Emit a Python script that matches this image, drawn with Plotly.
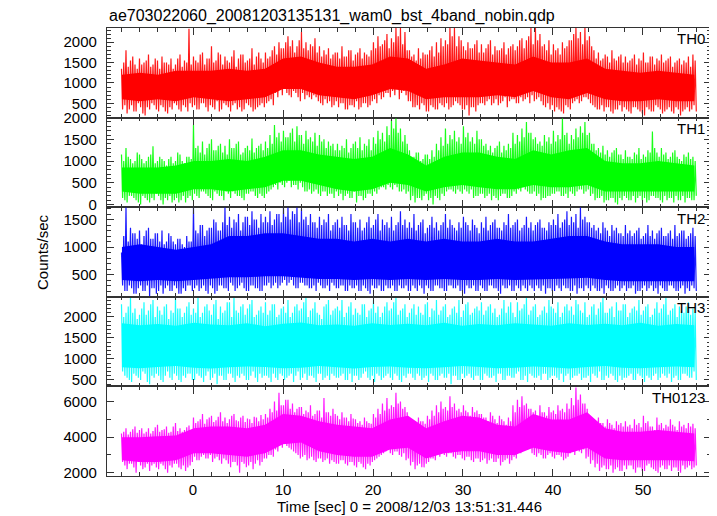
import numpy as np
import plotly.graph_objects as go
from plotly.subplots import make_subplots

# ---------------- data ----------------
# Spiky envelope of each light curve in 0.5 s bins.
# Per bin: *_hi at bin start, *_lo +0.125 s, *_hi_b +0.25 s, *_lo_b +0.375 s.
TIME_START = -7.95
BIN_SEC = 0.5

th0_hi = [1350,1800,1550,1450,1600,1500,1700,1450,1550,1650,1500,1600,1450,1700,1550,2330,
          1650,1500,1750,1600,1900,1550,1700,1650,1500,1800,1600,1700,1550,1850,1650,1600,
          1750,1650,1900,2000,1850,2150,2050,1900,2250,2000,1950,2100,1900,1800,1850,1700,
          1750,1900,1650,1800,1700,1850,1750,1650,2000,2150,1950,2200,2100,2350,2350,2250,
          1800,1700,1850,1750,1700,1900,2000,2100,2050,2350,2350,2150,1900,2000,1850,2050,
          1950,1850,2050,1900,1800,2000,1850,1950,1900,2100,2050,2350,2350,2200,1950,2050,
          1950,1850,2000,1900,2050,2350,2250,2350,2150,1800,1750,1600,1650,1800,1550,1700,
          1650,1550,1700,1600,1750,1500,1650,1600,1700,1550,1650,1500,1600,1550,1650,1700]
th0_lo = [350,250,450,300,400,200,350,450,300,400,250,350,450,300,400,500,
          450,350,500,300,400,550,350,450,300,500,400,350,450,300,400,500,
          500,600,750,900,850,700,800,650,750,700,600,650,500,600,550,450,
          400,500,350,450,550,400,500,450,600,700,650,750,800,850,750,700,
          550,400,350,450,300,400,350,450,500,400,550,450,350,200,400,450,
          500,550,450,600,500,650,550,600,500,550,650,700,600,550,400,350,
          300,350,250,400,500,600,550,650,500,400,350,300,400,250,350,300,
          350,250,400,300,200,350,300,400,250,350,300,400,200,350,300,450]
th0_hi_b = [1500,1400,1650,1350,1450,1550,1400,1600,1350,1500,1450,1350,1600,1400,1500,1450,
            1550,1700,1450,1600,1500,1750,1450,1550,1650,1400,1700,1500,1600,1450,1750,1500,
            1600,1800,1700,1850,2000,1900,1750,2050,1850,1800,1900,1750,1650,1700,1600,1750,
            1600,1650,1800,1550,1750,1600,1700,1800,1850,1900,2050,1850,2000,2150,1950,1800,
            1650,1550,1600,1700,1800,1650,1750,1900,1950,2150,1900,2050,1800,1850,1950,1750,
            1750,1950,1700,1800,1850,1700,1900,1800,2050,1850,2150,1950,2050,1900,1800,1700,
            1800,1700,1850,2050,2200,2100,1950,2050,1900,1600,1550,1700,1500,1600,1650,1500,
            1500,1600,1450,1550,1500,1650,1450,1550,1500,1600,1400,1550,1450,1500,1400,1550]
th0_lo_b = [450,350,300,500,250,400,500,350,450,300,400,500,350,450,300,400,
            350,500,400,450,350,300,500,400,450,350,300,500,400,350,450,400,
            550,450,650,700,750,650,750,550,600,650,700,550,450,500,400,550,
            500,350,450,400,350,500,400,550,500,600,750,650,700,600,800,550,
            400,450,500,300,450,350,500,400,350,450,500,350,450,400,300,500,
            450,600,500,450,550,400,600,500,650,600,500,550,650,450,500,450,
            400,300,450,350,550,500,650,600,450,350,450,400,300,350,450,400,
            300,400,350,250,400,300,450,350,300,400,250,350,300,400,350,300]

th1_hi = [1150,1300,1050,1000,1150,950,1100,1340,1000,1050,900,1100,1000,1150,950,1100,
          1830,1350,1450,1300,1500,1250,1400,1350,1500,1300,1450,1200,1350,1520,1300,1400,
          1450,1600,1830,1650,1700,1550,1750,1800,1600,1700,1550,1650,1600,1500,1450,1400,
          1400,1350,1500,1300,1450,1550,1400,1500,1550,1700,1650,1800,1950,1980,1750,1600,
          1250,1100,1200,1050,1150,1250,1400,1550,1750,1600,1700,1550,1800,1650,1550,1700,
          1500,1400,1350,1300,1450,1350,1400,1650,1600,1750,1900,1650,1550,1450,1600,1550,
          1700,1600,1980,1650,1600,1750,1800,1900,1650,1400,1300,1350,1250,1200,1300,1150,
          1250,1100,1200,1300,1150,1250,1680,1200,1300,1200,1100,1250,1050,1150,1200,1100]
th1_lo = [150,50,200,100,0,150,50,100,200,0,100,50,150,100,50,200,
          250,150,300,200,100,250,200,300,150,250,200,100,250,300,150,200,
          250,350,450,500,400,550,450,350,400,300,250,350,200,300,250,150,
          200,100,250,150,50,200,150,250,300,350,400,450,350,400,300,250,
          100,50,150,200,100,0,150,250,300,350,250,300,350,250,150,200,
          250,200,100,150,200,250,150,300,350,400,300,250,200,100,150,200,
          250,300,200,150,250,300,350,300,200,100,150,50,100,150,0,100,
          150,100,50,200,150,100,200,150,50,100,150,200,100,50,150,100]
th1_hi_b = [1000,1100,950,1200,1050,1000,1150,950,1100,1000,1050,950,1200,1000,1100,1050,
            1300,1200,1150,1400,1250,1350,1200,1150,1300,1400,1150,1300,1250,1200,1350,1250,
            1300,1400,1550,1450,1550,1650,1450,1600,1400,1500,1450,1350,1450,1300,1350,1250,
            1250,1300,1200,1400,1300,1250,1350,1250,1400,1500,1450,1600,1750,1650,1450,1400,
            1100,1200,1000,1150,1050,1100,1250,1350,1400,1500,1450,1400,1550,1450,1400,1500,
            1350,1250,1200,1350,1200,1250,1300,1400,1450,1550,1650,1500,1400,1350,1450,1400,
            1450,1500,1600,1400,1500,1550,1650,1600,1400,1250,1200,1150,1100,1250,1150,1050,
            1100,1050,1150,1050,1100,1200,1300,1100,1150,1050,1200,1100,1000,1100,1050,1000]
th1_lo_b = [100,200,150,50,200,100,150,250,100,150,200,100,50,200,150,100,
            200,300,250,150,300,200,100,250,300,200,150,250,300,200,250,150,
            300,400,350,450,500,400,450,500,300,350,300,250,300,200,250,300,
            250,200,150,300,200,100,250,200,250,400,350,400,450,300,350,300,
            200,150,100,250,150,200,100,200,350,300,350,250,300,350,200,250,
            150,250,200,100,250,150,200,250,300,350,250,300,250,150,200,250,
            300,200,250,300,200,350,250,350,250,150,200,100,150,50,150,200,
            100,200,150,100,50,200,150,100,200,150,50,100,200,150,100,200]

th2_hi = [900,1720,1350,1250,1300,1200,1350,1150,1250,1300,1100,1200,1050,1150,1000,1100,
          1720,1250,1400,1300,1350,1450,1300,1720,1550,1500,1600,1450,1550,1650,1500,1600,
          1550,1650,1500,1600,1720,1720,1650,1720,1700,1550,1600,1450,1550,1500,1600,1400,
          1500,1550,1400,1600,1450,1500,1350,1550,1400,1600,1500,1450,1550,1400,1650,1500,
          1450,1600,1400,1500,1350,1550,1450,1400,1600,1500,1350,1450,1550,1400,1500,1350,
          1450,1550,1400,1500,1350,1450,1600,1400,1500,1350,1550,1450,1400,1500,1350,1450,
          1500,1600,1450,1650,1550,1600,1720,1550,1450,1400,1350,1450,1300,1400,1350,1250,
          1400,1300,1250,1350,1200,1400,1300,1250,1350,1200,1300,1400,1250,1300,1200,1350]
th2_lo = [300,200,250,150,300,200,100,250,200,150,300,200,250,150,200,300,
          250,200,300,150,250,200,300,250,350,200,300,250,200,300,250,200,
          300,250,350,300,400,350,300,250,350,300,250,200,300,250,200,300,
          250,300,200,250,300,200,250,150,250,300,200,250,300,200,250,300,
          200,250,300,150,250,200,300,250,200,300,250,200,150,250,300,200,
          250,200,300,250,150,250,300,200,250,300,200,250,300,200,150,250,
          200,250,300,250,200,150,250,300,200,250,200,150,250,200,300,250,
          200,250,150,200,300,250,200,150,250,200,300,200,250,150,200,250]
th2_hi_b = [1200,1100,1250,1150,1050,1300,1150,1250,1100,1050,1250,1100,1150,1050,1200,1100,
            1300,1400,1200,1350,1500,1300,1450,1400,1350,1450,1300,1550,1400,1500,1350,1450,
            1450,1400,1600,1450,1550,1500,1600,1450,1500,1400,1450,1350,1400,1450,1300,1450,
            1350,1400,1300,1450,1350,1300,1450,1350,1500,1300,1400,1350,1300,1450,1400,1350,
            1350,1300,1450,1250,1400,1350,1300,1450,1350,1400,1300,1350,1450,1300,1400,1250,
            1350,1300,1450,1350,1300,1400,1350,1450,1300,1400,1350,1300,1450,1350,1300,1400,
            1400,1350,1500,1400,1450,1350,1500,1450,1350,1300,1250,1350,1200,1300,1250,1200,
            1250,1200,1300,1150,1250,1200,1150,1300,1200,1250,1150,1200,1300,1150,1250,1200]
th2_lo_b = [200,300,150,250,200,300,250,150,300,250,200,300,150,250,300,200,
            300,250,200,300,150,300,250,200,300,250,350,200,300,250,200,300,
            350,300,250,350,300,400,250,350,300,250,300,350,250,300,350,250,
            300,200,300,250,200,300,200,300,250,200,300,250,200,300,250,200,
            300,200,250,300,200,300,250,200,300,250,300,200,300,250,200,300,
            200,300,250,200,300,250,200,300,200,250,300,200,250,300,250,200,
            300,200,250,200,300,250,200,250,300,200,250,300,200,250,200,300,
            250,300,200,250,200,300,250,300,200,300,250,200,300,250,300,200]

th3_hi = [2300,2100,2450,2200,2050,2350,2150,2400,2250,2050,2300,2150,2450,2200,2100,2350,
          2200,2450,2100,2300,2050,2400,2250,2150,2350,2450,2100,2300,2200,2400,2050,2250,
          2350,2150,2300,2050,2250,2400,2100,2300,2200,2450,2150,2350,2050,2250,2400,2150,
          2250,2400,2100,2350,2200,2050,2300,2150,2400,2250,2100,2350,2200,2450,2150,2300,
          2100,2300,2250,2050,2350,2200,2400,2150,2300,2050,2250,2400,2150,2350,2100,2250,
          2350,2150,2300,2200,2050,2400,2250,2100,2350,2200,2450,2150,2300,2050,2250,2400,
          2200,2350,2100,2300,2250,2400,2150,2350,2050,2300,2200,2450,2100,2250,2350,2150,
          2300,2100,2250,2400,2150,2300,2050,2350,2200,2450,2150,2300,2250,2100,2350,2200]
th3_lo = [700,550,450,600,500,650,400,550,600,450,700,500,600,450,550,650,
          500,600,450,700,550,400,600,500,650,450,550,600,500,700,450,550,
          600,450,550,650,500,600,450,700,550,500,600,450,650,550,500,600,
          550,650,500,450,600,550,700,500,450,600,550,650,500,600,450,550,
          650,500,600,550,450,600,500,650,550,400,600,500,550,650,500,600,
          500,600,550,450,650,500,600,550,700,500,450,600,550,500,650,550,
          600,500,450,650,550,600,500,550,450,600,700,500,550,600,450,500,
          550,650,500,600,450,550,600,500,650,550,450,600,500,650,550,700]
th3_hi_b = [2000,2250,2100,1950,2200,2050,2300,2000,2150,2250,1950,2100,2200,2000,2250,2050,
            2100,2000,2250,2150,2300,1950,2100,2350,2000,2150,2250,2050,2300,2000,2150,2100,
            2050,2300,2000,2200,2100,2000,2250,2150,2350,2000,2200,2100,1950,2300,2050,2200,
            2150,2000,2250,2050,2100,2300,2000,2200,2100,2000,2250,2150,2350,2050,2200,2000,
            2200,2050,2100,2300,2000,2150,2050,2250,2000,2200,2100,2000,2300,2050,2200,2150,
            2050,2250,2100,2000,2200,2100,2350,2000,2150,2300,2050,2250,2000,2150,2100,2250,
            2100,2000,2250,2150,2050,2300,2100,2000,2250,2050,2350,2100,2200,2000,2150,2300,
            2000,2200,2150,2050,2250,2000,2200,2100,2300,2050,2200,2000,2150,2250,2050,2100]
th3_lo_b = [600,500,650,550,700,450,600,650,500,600,550,650,500,600,650,500,
            650,550,600,500,650,600,500,650,550,600,650,500,600,550,650,600,
            550,650,500,600,550,650,600,500,650,600,550,650,500,600,650,550,
            600,500,650,600,500,650,550,600,650,500,600,550,650,500,600,650,
            550,650,500,600,650,500,600,550,650,600,500,650,600,550,600,500,
            650,550,600,650,500,600,550,650,500,600,650,550,600,650,500,600,
            550,650,600,500,600,650,550,600,650,550,500,600,650,500,600,550,
            600,500,650,550,600,500,650,550,600,650,550,500,650,600,550,500]

th0123_hi = [4200,4500,4300,4600,4400,4200,4500,4350,4700,4400,4600,4300,4800,4500,4400,4650,
             5100,4900,5300,5000,5200,4950,5400,5100,5000,5300,4900,5200,5050,4800,5100,5250,
             5300,5600,6000,6500,5800,6100,5900,5600,5700,5500,5800,5300,5500,6200,5400,5600,
             5200,5400,5100,5300,5000,4900,5100,4800,5300,5600,5900,6200,5800,6500,6000,5700,
             5000,4800,5100,4900,5200,5500,5800,6000,5700,6300,5900,5600,5800,5400,5700,5500,
             5300,5100,5400,5000,5200,4900,5100,5800,6100,6300,5900,5600,5500,5800,5400,5700,
             5500,5800,5600,5900,6200,6800,6400,5900,5200,4900,5100,4800,5000,4700,4900,4800,
             4900,4700,5000,4800,5200,4900,4600,5100,4800,4700,5000,4600,4900,4700,4800,4750]
th0123_lo = [2600,2200,2500,2000,2400,2300,2100,2500,2200,2400,2000,2300,2500,2200,2100,2400,
             2900,2700,3000,2800,2600,2900,2500,2700,2300,2600,2000,2500,2400,2200,2700,2600,
             2800,3000,3300,3600,3800,3400,3200,3000,2900,2700,2900,2600,2800,2700,2500,2600,
             2500,2700,2400,2600,2300,2500,2200,2400,2700,2900,3100,3300,3000,3200,2900,2700,
             2400,2200,2500,2300,2600,2800,3000,3200,2900,3100,2800,3000,2700,2900,2600,2800,
             2700,2500,2800,2600,2400,2700,2500,2900,3200,3600,3300,3100,2900,3000,2800,3100,
             2800,3000,2700,2900,3200,3400,3100,2800,2500,2300,2100,2400,2200,2000,2300,2100,
             2200,2400,2000,2300,2100,2500,2200,2000,2400,2200,2100,2300,2000,2200,2400,2300]
th0123_hi_b = [4300,4150,4450,4250,4500,4300,4200,4550,4300,4450,4250,4600,4350,4300,4550,4400,
               4800,5000,4750,5100,4850,5150,4900,4800,5200,4950,5100,4850,5000,5150,4900,5000,
               5100,5400,5500,5800,6100,5600,5400,5700,5300,5400,5200,5500,5100,5400,5200,5300,
               5000,5100,4900,5050,4800,4700,4900,4750,5100,5300,5500,5600,5700,5900,5600,5400,
               4800,4700,4900,4750,5000,5200,5400,5600,5500,5700,5500,5400,5500,5200,5400,5300,
               5100,4900,5200,4800,5000,4700,4900,5400,5700,5800,5600,5400,5200,5400,5200,5400,
               5300,5500,5400,5600,5800,6100,5900,5600,5000,4700,4800,4600,4800,4500,4700,4600,
               4600,4500,4700,4550,4800,4600,4400,4700,4500,4600,4700,4400,4600,4500,4600,4500]
th0123_lo_b = [2400,2500,2300,2600,2200,2500,2400,2300,2500,2200,2400,2500,2300,2400,2300,2600,
               2700,2900,2800,3000,2800,2700,2800,2500,2600,2400,2600,2300,2600,2500,2400,2800,
               3000,2900,3200,3400,3500,3300,3100,2800,3000,2800,2700,2800,2600,2800,2700,2500,
               2700,2500,2600,2400,2600,2300,2500,2600,2800,3000,3200,3100,3200,3000,3100,2800,
               2600,2400,2300,2500,2800,2700,2900,3000,3100,2900,3000,2800,2900,2700,2800,2600,
               2800,2700,2600,2800,2600,2800,2700,2800,3100,3300,3400,3000,3100,2800,3000,2900,
               3000,2900,2800,3100,3000,3200,3300,2900,2700,2500,2300,2200,2400,2200,2100,2400,
               2400,2200,2300,2100,2400,2300,2100,2300,2200,2400,2300,2100,2400,2300,2200,2400]

# Dense core (solid band) of each light curve, read about every 2 s
core_t = [-7.9, -5.9, -3.9, -1.9, 0.1, 2.0, 4.0, 6.0, 8.0, 10.0, 12.0, 14.0, 16.0, 17.9, 19.9,
          21.9, 23.9, 25.9, 27.9, 29.9, 31.8, 33.8, 35.8, 37.8, 39.8, 41.8, 43.8, 45.8, 47.7,
          49.7, 51.7, 53.7, 55.7]
th0_core_hi = [1200,1250,1200,1300,1300,1300,1350,1300,1350,1600,1650,1500,1400,1400,1450,1650,1600,
               1350,1450,1600,1550,1500,1450,1650,1500,1500,1600,1350,1300,1250,1300,1250,1200]
th0_core_lo = [600,550,600,550,650,600,550,600,650,850,850,700,650,600,700,850,800,
               600,650,650,650,700,650,800,650,600,750,600,550,550,600,550,550]
th1_core_hi = [850,850,850,900,1000,1000,1050,1000,1100,1250,1250,1150,1100,1050,1100,1300,1150,
               900,1100,1200,1200,1100,1050,1250,1150,1250,1300,1000,950,950,1000,950,900]
th1_core_lo = [300,250,250,250,350,350,300,350,400,550,550,450,350,300,350,500,450,
               300,400,450,400,350,350,450,400,400,450,300,300,300,300,300,300]
th2_core_hi = [1000,1050,1000,950,1000,1050,1200,1200,1250,1250,1200,1150,1150,1100,1150,1100,1150,
               1100,1150,1100,1100,1150,1100,1100,1150,1200,1200,1100,1050,1050,1050,1000,1000]
th2_core_lo = [400,380,400,380,400,420,450,450,470,470,450,420,420,400,420,400,420,
               400,420,400,400,420,400,400,420,430,440,400,380,380,380,380,380]
th3_core_hi = [1850,1800,1830,1790,1860,1820,1800,1850,1780,1840,1870,1800,1820,1790,1850,1810,1840,
               1800,1860,1790,1830,1800,1850,1820,1790,1850,1810,1840,1800,1860,1790,1830,1800]
th3_core_lo = [800,780,810,830,790,770,800,820,810,780,790,830,800,770,810,820,790,
               780,800,830,810,780,790,820,800,770,810,830,790,780,800,820,800]
th0123_core_hi = [4000,4000,4050,4100,4500,4600,4600,4500,4700,5300,5200,4900,4700,4600,4500,5000,5200,
                  4500,4900,5200,5100,4700,4600,5300,5000,5000,5400,4500,4300,4300,4400,4300,4200]
th0123_core_lo = [2700,2600,2600,2700,3100,3100,3000,2900,3100,3600,3700,3200,3000,2900,2900,3300,3400,
                  2800,3100,3200,3200,3000,3000,3400,3200,3100,3400,2800,2700,2700,2700,2700,2650]

panel_names = ["TH0", "TH1", "TH2", "TH3", "TH0123"]
panel_hi = [th0_hi, th1_hi, th2_hi, th3_hi, th0123_hi]
panel_lo = [th0_lo, th1_lo, th2_lo, th3_lo, th0123_lo]
panel_hi_b = [th0_hi_b, th1_hi_b, th2_hi_b, th3_hi_b, th0123_hi_b]
panel_lo_b = [th0_lo_b, th1_lo_b, th2_lo_b, th3_lo_b, th0123_lo_b]
panel_core_hi = [th0_core_hi, th1_core_hi, th2_core_hi, th3_core_hi, th0123_core_hi]
panel_core_lo = [th0_core_lo, th1_core_lo, th2_core_lo, th3_core_lo, th0123_core_lo]
panel_colors = ["#ff0000", "#00ff00", "#0000ff", "#00ffff", "#ff00ff"]
y_ranges = [[148, 2350], [-60, 2000], [96, 1724], [346, 2479], [1814, 6856]]
y_major = [500, 500, 500, 500, 2000]
y_minor = [100, 100, 100, 100, 1000]
x_range = [-9.56, 57.56]

title_text = "ae703022060_20081203135131_wam0_bst_4band_nobin.qdp"
x_title = "Time [sec] 0 = 2008/12/03 13:51:31.446"
y_title = "Counts/sec"

# ---------------- figure ----------------
FONT = "Liberation Sans, Arial, Helvetica, sans-serif"
FS = 15
fig = make_subplots(rows=5, cols=1, shared_xaxes=True, vertical_spacing=0)

for i in range(5):
    col = panel_colors[i]
    # solid core band
    band_x = list(core_t) + list(core_t[::-1])
    band_y = list(panel_core_hi[i]) + list(panel_core_lo[i][::-1])
    fig.add_trace(go.Scatter(x=band_x, y=band_y, mode="lines", fill="toself",
                             fillcolor=col, line=dict(color=col, width=0),
                             showlegend=False, hoverinfo="skip"),
                  row=i + 1, col=1)
    # spiky light curve
    xs, ys = [], []
    for k in range(len(panel_hi[i])):
        t = TIME_START + k * BIN_SEC
        xs += [t, t + BIN_SEC * 0.25, t + BIN_SEC * 0.5, t + BIN_SEC * 0.75]
        ys += [panel_hi[i][k], panel_lo[i][k], panel_hi_b[i][k], panel_lo_b[i][k]]
    fig.add_trace(go.Scatter(x=xs, y=ys, mode="lines", opacity=0.9,
                             line=dict(color=col, width=1.2),
                             showlegend=False, hoverinfo="skip"),
                  row=i + 1, col=1)

axis_common = dict(showline=True, linecolor="#333333", linewidth=1.3, mirror="allticks",
                   ticks="inside", tickcolor="#333333", showgrid=False, zeroline=False,
                   tickfont=dict(family=FONT, size=FS, color="#000000"))

for i in range(5):
    fig.update_yaxes(range=y_ranges[i], dtick=y_major[i], tick0=0, ticklen=7, tickwidth=1,
                     ticklabelstandoff=6,
                     minor=dict(dtick=y_minor[i], tick0=0, ticks="inside", ticklen=3.5,
                                tickcolor="#333333", tickwidth=1, showgrid=False),
                     **axis_common, row=i + 1, col=1)
    fig.update_xaxes(range=x_range, dtick=10, tick0=0, ticklen=7, tickwidth=1,
                     minor=dict(dtick=2, tick0=0, ticks="inside", ticklen=3.5,
                                tickcolor="#333333", tickwidth=1, showgrid=False),
                     showticklabels=(i == 4), **axis_common, row=i + 1, col=1)

# panel labels
for i in range(5):
    yref = "y domain" if i == 0 else f"y{i + 1} domain"
    fig.add_annotation(text=panel_names[i], xref="x domain", yref=yref, x=0.9935, y=0.995,
                       xanchor="right", yanchor="top", showarrow=False,
                       font=dict(family=FONT, size=FS, color="#000000"))

fig.add_annotation(text=title_text, xref="paper", yref="paper", x=0.0, y=1.0, yshift=12,
                   xanchor="left", yanchor="middle", showarrow=False,
                   font=dict(family=FONT, size=16, color="#000000"))
fig.add_annotation(text=x_title, xref="paper", yref="paper", x=0.5, y=0, yshift=-30,
                   xanchor="center", yanchor="middle", showarrow=False,
                   font=dict(family=FONT, size=FS, color="#000000"))
fig.add_annotation(text=y_title, xref="paper", yref="paper", x=0, xshift=-65, y=0.5,
                   xanchor="center", yanchor="middle", textangle=-90, showarrow=False,
                   font=dict(family=FONT, size=FS, color="#000000"))

# the page body adds an 8 px margin; size the figure so the frame lands where the reference has it
fig.update_layout(width=709, height=508, margin=dict(l=99, r=6, t=20, b=40),
                  paper_bgcolor="white", plot_bgcolor="white", showlegend=False)

fig.write_html("out.html")
